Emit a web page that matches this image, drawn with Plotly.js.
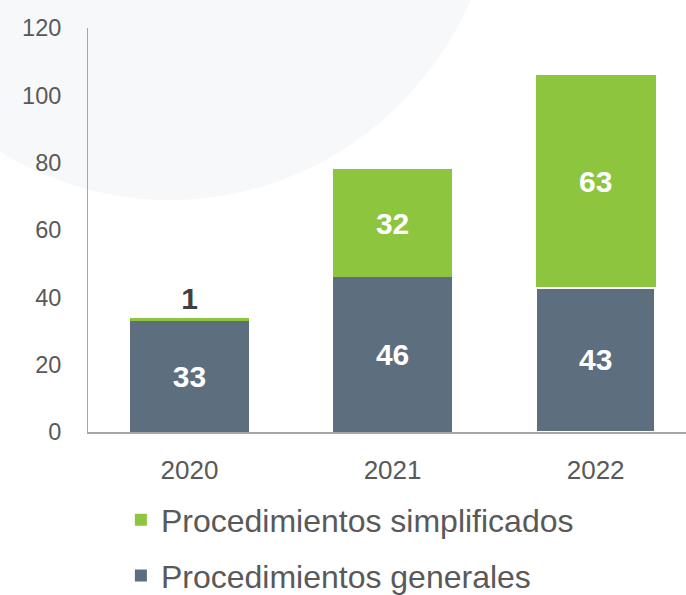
<!DOCTYPE html>
<html>
<head>
<meta charset="utf-8">
<script src="https://cdn.plot.ly/plotly-3.0.1.min.js"></script>
<style>html,body{margin:0;padding:0;background:#fff;}#chart{width:686px;height:595px;}</style>
</head>
<body>
<div id="chart"></div>
<script>
const years = ['2020', '2021', '2022'];
const generales = [33, 46, 43];
const simplificados = [1, 32, 63];
const nameGenerales = 'Procedimientos generales';
const nameSimplificados = 'Procedimientos simplificados';
const yTicks = [0, 20, 40, 60, 80, 100, 120];

const dark = '#5d6e7e';
const green = '#8dc53f';
const FONT = 'Liberation Sans, Arial, sans-serif';

const traces = [
  {
    type: 'bar', x: years, y: generales, name: nameGenerales, legend: 'legend2',
    marker: {color: dark, line: {color: '#ffffff', width: [0, 0, 3]}},
    text: generales.map(String), textposition: 'inside', insidetextanchor: 'middle',
    textfont: {family: FONT, size: 30, color: '#ffffff', weight: 'bold'},
    width: 0.59, hoverinfo: 'skip'
  },
  {
    type: 'bar', x: years, y: simplificados, name: nameSimplificados, legend: 'legend',
    marker: {color: green, line: {width: 0}},
    text: simplificados.map(String),
    textposition: simplificados.map(v => v < 5 ? 'outside' : 'inside'),
    insidetextanchor: 'middle',
    textfont: {family: FONT, size: 30,
      color: simplificados.map(v => v < 5 ? '#404040' : '#ffffff'), weight: 'bold'},
    outsidetextfont: {family: FONT, size: 30, color: '#404040', weight: 'bold'},
    cliponaxis: false, constraintext: 'none',
    width: 0.59, hoverinfo: 'skip'
  }
];

const legendCommon = {
  orientation: 'v', xanchor: 'left', yanchor: 'middle',
  font: {family: FONT, size: 32, color: '#595959'}, itemwidth: 30,
  bgcolor: 'rgba(0,0,0,0)', borderwidth: 0
};

const layout = {
  width: 686, height: 595,
  margin: {l: 88, r: 0, t: 28, b: 163, autoexpand: false},
  paper_bgcolor: '#ffffff', plot_bgcolor: 'rgba(0,0,0,0)',
  barmode: 'stack',
  font: {family: FONT, color: '#595959'},
  xaxis: {
    type: 'category', range: [-0.5, 2.445],
    showline: true, linecolor: '#a6a6a6', linewidth: 1.5,
    showgrid: false, zeroline: false, ticks: '',
    tickfont: {size: 26, color: '#595959'}, ticklabelstandoff: 14
  },
  yaxis: {
    range: [0, 120], tickvals: yTicks, ticktext: yTicks.map(String),
    showline: true, linecolor: '#a6a6a6', linewidth: 1,
    showgrid: false, zeroline: false, ticks: '',
    tickfont: {size: 23.5, color: '#595959'}, ticklabelstandoff: 21
  },
  showlegend: true,
  legend: Object.assign({}, legendCommon, {x: 0.055, y: -0.218}),
  legend2: Object.assign({}, legendCommon, {x: 0.055, y: -0.356}),
  shapes: [
    {type: 'circle', xref: 'paper', yref: 'paper', x0: -0.415, x1: 0.689, y0: 0.574, y1: 2.257,
     fillcolor: '#f4f5f8', line: {width: 0}, layer: 'below', opacity: 0.7}
  ]
};

Plotly.newPlot('chart', traces, layout, {displayModeBar: false, staticPlot: true});
</script>
</body>
</html>
